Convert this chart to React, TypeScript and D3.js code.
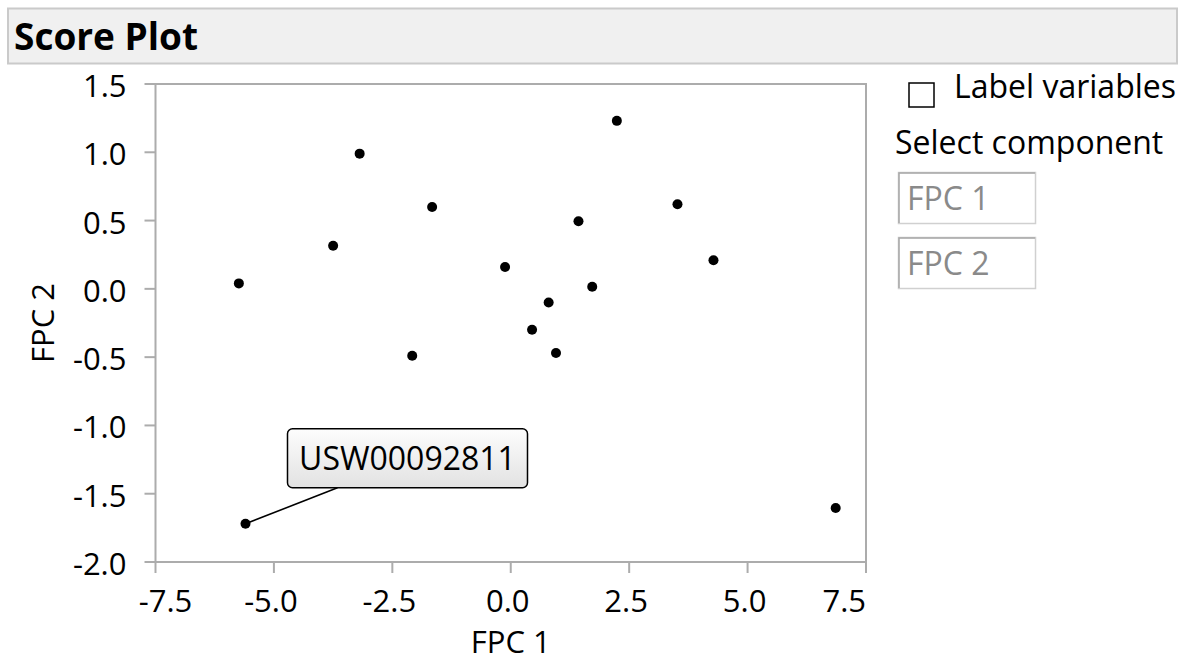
import React from "react";
import * as d3 from "d3";

const fpc1 = [-5.74, -3.75, -3.19, -1.66, -2.08, -0.12, 0.45, 0.8, 0.955, 1.43, 1.72, 2.24, 3.52, 4.28, -5.6, 6.86];
const fpc2 = [0.04, 0.316, 0.99, 0.6, -0.49, 0.16, -0.3, -0.1, -0.47, 0.495, 0.016, 1.23, 0.62, 0.21, -1.72, -1.605];
const xTicks = [-7.5, -5, -2.5, 0, 2.5, 5, 7.5];
const yTicks = [1.5, 1, 0.5, 0, -0.5, -1, -1.5, -2];
const labeledId = "USW00092811";
const labeledIndex = 14;
const components = ["FPC 1", "FPC 2"];

const FONT = "'Open Sans', 'Noto Sans', sans-serif";

export default function App() {
  const left = 155.5, right = 866, top = 84, bottom = 562;
  const x = d3.scaleLinear().domain([-7.5, 7.5]).range([left, right]);
  const y = d3.scaleLinear().domain([-2, 1.5]).range([bottom, top]);
  const f1 = d3.format(".1f");
  const fmt = (v: number) => f1(v).replace("\u2212", "-");
  const axisColor = "#acacac";
  const px = x(fpc1[labeledIndex]);
  const py = y(fpc2[labeledIndex]);
  const bx = px + 42, by = py - 95, bw = 240, bh = 59;

  return (
    <svg
      width={1185}
      height={661}
      style={{ position: "absolute", left: 0, top: 0, fontFamily: FONT }}
    >
      <defs>
        <linearGradient id="lblGrad" x1="0" y1="0" x2="0" y2="1">
          <stop offset="0" stopColor="#fdfdfd" />
          <stop offset="1" stopColor="#e2e2e2" />
        </linearGradient>
      </defs>
      <rect x={0} y={0} width={1185} height={661} fill="#fff" />
      {/* header */}
      <rect x={8} y={8.5} width={1169} height={55} fill="#f0f0f0" stroke="#cacaca" strokeWidth={2} />
      <text x={14} y={50} fontSize={37} fontWeight="bold" fill="#000">Score Plot</text>

      {/* frame */}
      <rect x={left} y={top} width={right - left} height={bottom - top} fill="none" stroke={axisColor} strokeWidth={2} />

      {/* y axis */}
      {yTicks.map((t) => (
        <g key={"y" + t}>
          <line x1={left - 11} x2={left} y1={y(t)} y2={y(t)} stroke={axisColor} strokeWidth={2} />
          <text x={left - 29} y={y(t) + 13} textAnchor="end" fontSize={31} fill="#000">
            {fmt(t)}
          </text>
        </g>
      ))}
      {/* x axis */}
      {xTicks.map((t, i) => {
        const isFirst = i === 0;
        const isLast = i === xTicks.length - 1;
        const tx = isLast ? x(t) : x(t) + (isFirst ? 10 : -3);
        return (
          <g key={"x" + t}>
            <line x1={x(t)} x2={x(t)} y1={bottom} y2={bottom + 11} stroke={axisColor} strokeWidth={2} />
            <text x={tx} y={bottom + 50} textAnchor={isLast ? "end" : "middle"} fontSize={31} fill="#000">
              {fmt(t)}
            </text>
          </g>
        );
      })}
      <text x={(left + right) / 2} y={653} textAnchor="middle" fontSize={31} fill="#000">FPC 1</text>
      <text transform={`translate(54,${(top + bottom) / 2}) rotate(-90)`} textAnchor="middle" fontSize={31} fill="#000">FPC 2</text>

      {/* callout */}
      <line x1={px} y1={py} x2={bx + 50} y2={by + bh} stroke="#000" strokeWidth={1.6} />
      <rect x={bx} y={by} width={bw} height={bh} rx={5} ry={5} fill="url(#lblGrad)" stroke="#000" strokeWidth={1.5} />
      <text x={bx + bw / 2} y={by + 41} textAnchor="middle" fontSize={32} fill="#000">{labeledId}</text>

      {/* points */}
      {fpc1.map((v, i) => (
        <circle key={i} cx={x(v)} cy={y(fpc2[i])} r={5} fill="#000" />
      ))}

      {/* right panel */}
      <rect x={909} y={83} width={25} height={24} fill="#fff" stroke="#000" strokeWidth={1.5} />
      <text x={954} y={98} fontSize={32} fill="#000">Label variables</text>
      <text x={895} y={154} fontSize={32} fill="#000">Select component</text>
      {components.map((c, i) => (
        <g key={c} transform={`translate(898,${172 + i * 65})`}>
          <rect x={0.5} y={0.5} width={137} height={51} fill="#fff" stroke="#d0d0d0" strokeWidth={1.5} />
          <path d="M1,51 V1 H137" fill="none" stroke="#a8a8a8" strokeWidth={1.5} />
          <text x={9} y={38} fontSize={32} fill="#8a8a8a">{c}</text>
        </g>
      ))}
    </svg>
  );
}
